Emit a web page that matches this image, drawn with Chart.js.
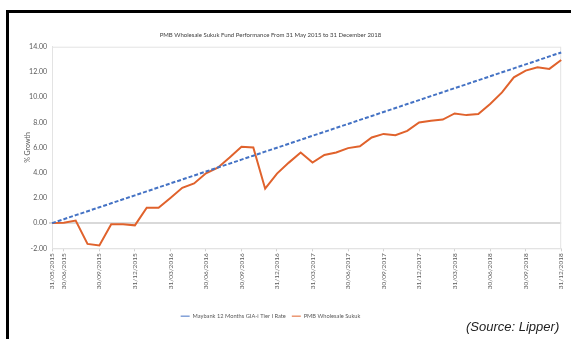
<!DOCTYPE html>
<html>
<head>
<meta charset="utf-8">
<script src="https://cdn.jsdelivr.net/npm/chart.js@4.4.0/dist/chart.umd.min.js"></script>
<style>
  html, body { margin: 0; padding: 0; background: #fff; }
  body { width: 571px; height: 339px; position: relative; overflow: hidden; }
  #frame { position: absolute; left: 6px; top: 10px; width: 700px; height: 400px;
           border-top: 3px solid #000; border-left: 3px solid #000; }
  #wrap { position: absolute; left: -27px; top: 0; width: 598px; height: 339px; }
  #source { position: absolute; left: 466px; top: 319px; font-family: "Liberation Sans", Arial, sans-serif;
            font-style: italic; font-size: 13px; color: #222; }
</style>
</head>
<body>
<div id="frame"></div>
<div id="wrap"><canvas id="chart" width="598" height="339"></canvas></div>
<div id="source">(Source: Lipper)</div>
<script>
// ---------- Data ---------- //
const dates = [
  '31/05/2015', '30/06/2015', '31/07/2015', '31/08/2015', '30/09/2015', '31/10/2015', '30/11/2015', '31/12/2015',
  '31/01/2016', '29/02/2016', '31/03/2016', '30/04/2016', '31/05/2016', '30/06/2016', '31/07/2016', '31/08/2016',
  '30/09/2016', '31/10/2016', '30/11/2016', '31/12/2016',
  '31/01/2017', '28/02/2017', '31/03/2017', '30/04/2017', '31/05/2017', '30/06/2017', '31/07/2017', '31/08/2017',
  '30/09/2017', '31/10/2017', '30/11/2017', '31/12/2017',
  '31/01/2018', '28/02/2018', '31/03/2018', '30/04/2018', '31/05/2018', '30/06/2018', '31/07/2018', '31/08/2018',
  '30/09/2018', '31/10/2018', '30/11/2018', '31/12/2018'
];

// labels actually printed on the x axis
const shownDates = [
  '31/05/2015', '30/06/2015', '30/09/2015', '31/12/2015', '31/03/2016', '30/06/2016', '30/09/2016', '31/12/2016',
  '31/03/2017', '30/06/2017', '30/09/2017', '31/12/2017', '31/03/2018', '30/06/2018', '30/09/2018', '31/12/2018'
];

const maybankRate = [
  0.00, 0.31, 0.63, 0.94, 1.26, 1.57, 1.89, 2.20,
  2.52, 2.83, 3.15, 3.46, 3.78, 4.09, 4.41, 4.72, 5.04, 5.35, 5.67, 5.98,
  6.30, 6.61, 6.93, 7.24, 7.56, 7.87, 8.19, 8.50, 8.82, 9.13, 9.45, 9.76,
  10.08, 10.39, 10.71, 11.02, 11.34, 11.65, 11.97, 12.28, 12.60, 12.91, 13.23, 13.54
];

const pmbSukuk = [
  0.00, 0.03, 0.20, -1.65, -1.78, -0.10, -0.10, -0.18,
  1.22, 1.22, 2.00, 2.80, 3.15, 3.95, 4.40, 5.20, 6.05, 6.00, 2.73, 3.93,
  4.80, 5.60, 4.80, 5.41, 5.60, 5.95, 6.10, 6.80, 7.08, 6.98, 7.32, 7.98,
  8.12, 8.22, 8.70, 8.57, 8.65, 9.45, 10.37, 11.57, 12.10, 12.37, 12.24, 12.95
];

const yTicks = [-2, 0, 2, 4, 6, 8, 10, 12, 14];

// ---------- Chart ---------- //
const FONT = 'Lato, "Open Sans", sans-serif';
const TXT = '#595959';

// light grey box round the plot area
const plotBorder = {
  id: 'plotBorder',
  beforeDatasetsDraw(chart) {
    const { ctx, chartArea: a } = chart;
    ctx.save();
    ctx.strokeStyle = '#e3e3e3';
    ctx.lineWidth = 1;
    ctx.strokeRect(a.left + 0.5, a.top + 0.5, a.right - a.left - 1, a.bottom - a.top);
    ctx.restore();
  }
};

new Chart(document.getElementById('chart'), {
  type: 'line',
  data: {
    labels: dates,
    datasets: [
      {
        label: 'Maybank 12 Months GIA-i Tier I Rate',
        data: maybankRate,
        borderColor: '#4472c4',
        borderWidth: 2,
        borderDash: [4, 2],
        pointRadius: 0,
        tension: 0
      },
      {
        label: 'PMB Wholesale Sukuk',
        data: pmbSukuk,
        borderColor: '#e0622c',
        borderWidth: 2,
        pointRadius: 0,
        tension: 0
      }
    ]
  },
  options: {
    responsive: false,
    animation: false,
    layout: { padding: { left: 0, right: 3, bottom: 10 } },
    plugins: {
      title: {
        display: true,
        text: 'PMB Wholesale Sukuk Fund Performance From 31 May 2015 to 31 December 2018',
        color: '#404040',
        font: { family: FONT, size: 6, weight: 'normal' },
        padding: { top: 31, bottom: 8.5 }
      },
      legend: {
        position: 'bottom',
        labels: {
          color: TXT,
          font: { family: FONT, size: 5.7 },
          usePointStyle: true,
          pointStyle: 'line',
          pointStyleWidth: 9,
          boxHeight: 6,
          padding: 6,
          generateLabels(chart) {
            return chart.data.datasets.map((ds, i) => ({
              text: ds.label,
              fillStyle: ds.borderColor,
              strokeStyle: ds.borderColor,
              lineWidth: 1,
              lineDash: [],
              pointStyle: 'line',
              fontColor: TXT,
              datasetIndex: i
            }));
          }
        }
      },
      tooltip: { enabled: false }
    },
    scales: {
      x: {
        border: { display: true, color: '#e3e3e3' },
        grid: {
          drawOnChartArea: false,
          tickLength: 3,
          tickColor: (c) => shownDates.includes(dates[c.index]) ? '#d0d0d0' : 'rgba(0,0,0,0)'
        },
        ticks: {
          autoSkip: false,
          minRotation: 90,
          maxRotation: 90,
          color: TXT,
          padding: 2,
          font: { family: FONT, size: 6.5 },
          callback(v, i) { return shownDates.includes(dates[i]) ? dates[i] : ''; }
        },
        afterFit(s) { s.height = 59; }
      },
      y: {
        min: -2,
        max: 14,
        border: { display: true, color: '#e3e3e3' },
        afterBuildTicks(s) { s.ticks = yTicks.map(v => ({ value: v })); },
        grid: {
          color: (c) => c.tick && c.tick.value === 0 ? '#d9d9d9' : 'rgba(0,0,0,0)',
          lineWidth: (c) => c.tick && c.tick.value === 0 ? 2 : 0,
          tickLength: 3,
          tickColor: '#d9d9d9'
        },
        ticks: {
          color: TXT,
          padding: 2,
          font: { family: FONT, size: 7 },
          callback: (v) => v.toFixed(2)
        },
        title: {
          display: true,
          text: '% Growth',
          color: TXT,
          padding: { top: 51, bottom: 0 },
          font: { family: FONT, size: 7 }
        },
        afterFit(s) { s.width = 79; }
      }
    }
  },
  plugins: [plotBorder]
});
</script>
</body>
</html>
